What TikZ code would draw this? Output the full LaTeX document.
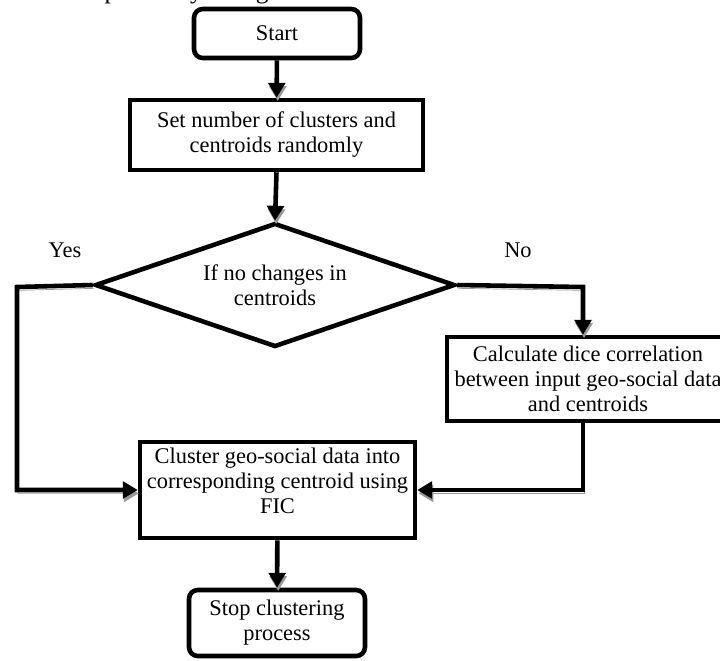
\documentclass[tikz,border=0pt]{standalone}
\usepackage{fontspec}
\setmainfont{Liberation Serif}
\usetikzlibrary{shapes.geometric, arrows.meta}
\tikzstyle{startstop} = [rectangle, rounded corners=5pt, draw=black, line width=2.6pt, align=center]
\tikzstyle{process} = [rectangle, draw=black, line width=2.6pt, align=center]
\tikzstyle{decision} = [diamond, aspect=3, draw=black, line width=2.6pt, align=center, inner sep=0pt]
\tikzstyle{arrow} = [line width=2.6pt, -{Triangle[length=8.5pt,width=9.5pt]}, preaction={draw=black!40, transform canvas={shift={(0.6pt,-1.9pt)}}}]
\tikzstyle{pagetext} = [anchor=base west, inner sep=0pt, font=\fontsize{14.5pt}{16pt}\selectfont]

\begin{document}
\begin{tikzpicture}[x=0.02cm, y=-0.02cm, every node/.style={font=\fontsize{12.75pt}{14.2pt}\selectfont}]
\useasboundingbox (0,0) rectangle (720,660);
\clip (0,0) rectangle (720,660);

% Page text cut at the top
\foreach \x/\w [count=\i] in {0/e, 25/consumption, 177/by, 213/using, 278/focused} {
    \node[pagetext] (word\i) at (\x,-2) {\w};
}

% Boxes
\node[startstop, minimum width=3.32cm, minimum height=0.98cm] (start) at (277,33.5) {Start};
\node[process, minimum width=5.86cm, minimum height=1.4cm] (setk) at (276.5,135) {Set number of clusters and\\centroids randomly};
\node[decision, minimum width=7.2cm, minimum height=2.48cm] (dec) at (275,285) {If no changes in\\centroids};
\node[process, minimum width=5.64cm, minimum height=1.68cm] (calc) at (588,379) {Calculate dice correlation\\between input geo-social data\\and centroids};
\node[process, minimum width=5.5cm, inner ysep=3.2pt, text depth=11pt] (cluster) at (277.5,490) {Cluster geo-social data into\\corresponding centroid using\\FIC};
\node[startstop, minimum width=3.52cm, minimum height=1.32cm] (stop) at (277,623) {Stop clustering\\process};

% Labels
\node (yes) at (65,250) {Yes};
\node (no) at (518,250) {No};

% Turning points
\coordinate (yesturn) at (17,287);
\coordinate (noturn) at (583,287);

% Arrows
\draw[arrow] (start) -- (setk);
\draw[arrow] (setk.south) -- (dec.north);
\draw[arrow] (dec.west) -- (yesturn) |- (cluster.west);
\draw[arrow] (dec.east) -- (noturn) -- (noturn |- calc.north);
\draw[arrow] (calc.south -| noturn) |- (cluster.east);
\draw[arrow] (cluster) -- (stop);
\end{tikzpicture}
\end{document}
